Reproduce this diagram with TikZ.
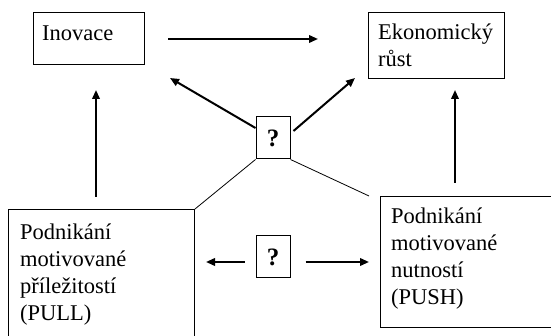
\documentclass[tikz,border=0pt]{standalone}
\usepackage{fontspec}
\setmainfont{Liberation Serif}
\usetikzlibrary{arrows.meta,calc}
\begin{document}
\begin{tikzpicture}[x=1pt,y=-1pt,
 box/.style={draw, line width=1pt, inner sep=0pt, anchor=north west},
 txt/.style={inner sep=0pt, anchor=north west, align=left, font=\fontsize{22.5}{27}\selectfont},
 arr/.style={line width=2pt, -{Triangle[length=9pt,width=7.5pt]}},
 thinline/.style={line width=0.8pt},
 qbox/.style={draw, line width=1pt, minimum width=34pt, minimum height=42pt, inner sep=0pt, font=\fontsize{25}{30}\selectfont\bfseries}]
\useasboundingbox (0,0) rectangle (551,336);
% boxes
\node[box, minimum width=111pt, minimum height=52pt] (inov) at (33,12) {};
\node[box, minimum width=136pt, minimum height=66pt] (ekon) at (368,12) {};
\node[box, minimum width=186pt, minimum height=150pt] (pull) at (8,209) {};
\node[box, minimum width=180pt, minimum height=131pt] (push) at (380,196) {};
\node[qbox] (q1) at (273,138) {?};
\node[qbox] (q2) at (273,257) {?};
% texts
\node[txt] (inovtxt) at (42,26) {Inovace};
\node[txt] (ekontxt) at (378,24) {Ekonomický\\růst};
\node[txt] (pulltxt) at (20,223.5) {Podnikání\\motivované\\příležitostí\\(PULL)};
\node[txt] (pushtxt) at (391,208) {Podnikání\\motivované\\nutností\\(PUSH)};
% free ends
\coordinate (topS) at (168,39);
\coordinate (topT) at (318,39);
\coordinate (t1) at (170,78);
\coordinate (t2) at (355,78);
\coordinate (lS) at (96,197);
\coordinate (lT) at (96,90);
\coordinate (rS) at (455,183);
\coordinate (rT) at (455,90);
\coordinate (pushcorner) at (369,196);
% connectors
\draw[arr] (topS) -- (topT);
\draw[arr] ([yshift=10pt]q1.west) -- (t1);
\draw[arr] ([xshift=3pt,yshift=7pt]q1.east) -- (t2);
\draw[arr] (lS) -- (lT);
\draw[arr] (rS) -- (rT);
\draw[thinline] (q1.south west) -- (pull.north east);
\draw[thinline] (q1.south east) -- (pushcorner);
\draw[arr, shorten <=11pt] ([yshift=-5pt]q2.west) -- ([yshift=-5pt,xshift=11pt]pull.east |- q2.west);
\draw[arr, shorten <=15pt] ([yshift=-5pt]q2.east) -- ([yshift=-5pt,xshift=-11pt]push.west |- q2.east);
\end{tikzpicture}
\end{document}
